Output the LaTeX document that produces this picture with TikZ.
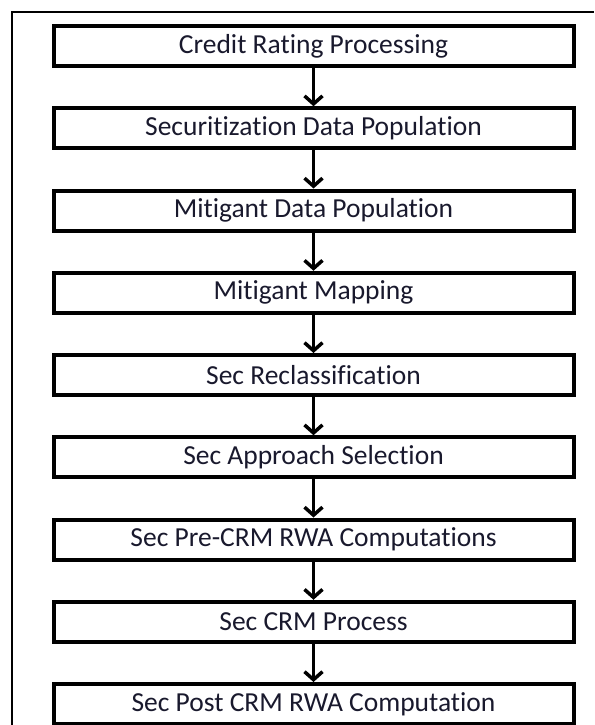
\documentclass[tikz,border=0pt]{standalone}
\usepackage{fontspec}
\setmainfont{Carlito}[Ligatures={NoCommon}]
\usepackage{tikz}
\usetikzlibrary{arrows.meta, positioning}
\definecolor{mytext}{RGB}{25,25,45}
\tikzset{
  stepbox/.style={rectangle, draw=black, fill=white, minimum width=520pt,
    minimum height=40pt, font=\fontsize{27.5}{30}\selectfont, text=mytext, line width=4pt},
  arrow/.style={-{Straight Barb[length=8pt, width=18pt]}, line width=3.5pt, color=black},
  frame/.style={line width=2pt, color=black}
}

\begin{document}
\begin{tikzpicture}[x=1pt, y=-1pt, node distance=38.25pt]
  \useasboundingbox (0,0) rectangle (594,725);
  % outer frame, only left and top edges show
  \draw[frame] (12,725) -- (12,12) -- (594,12);
  % process steps, top to bottom
  \node[stepbox] (crp) at (313.5,46) {Credit Rating Processing};
  \node[stepbox, below=of crp] (sdp) {Securitization Data Population};
  \node[stepbox, below=of sdp] (mdp) {Mitigant Data Population};
  \node[stepbox, below=of mdp] (mm) {Mitigant Mapping};
  \node[stepbox, below=of mm] (rec) {Sec Reclassification};
  \node[stepbox, below=of rec] (appr) {Sec Approach Selection};
  \node[stepbox, below=of appr] (pre) {Sec Pre-CRM RWA Computations};
  \node[stepbox, below=of pre] (crm) {Sec CRM Process};
  \node[stepbox, below=of crm] (post) {Sec Post CRM RWA Computation};
  % connectors
  \draw[arrow] (crp) -- (sdp);
  \draw[arrow] (sdp) -- (mdp);
  \draw[arrow] (mdp) -- (mm);
  \draw[arrow] (mm) -- (rec);
  \draw[arrow] (rec) -- (appr);
  \draw[arrow] (appr) -- (pre);
  \draw[arrow] (pre) -- (crm);
  \draw[arrow] (crm) -- (post);
\end{tikzpicture}
\end{document}
